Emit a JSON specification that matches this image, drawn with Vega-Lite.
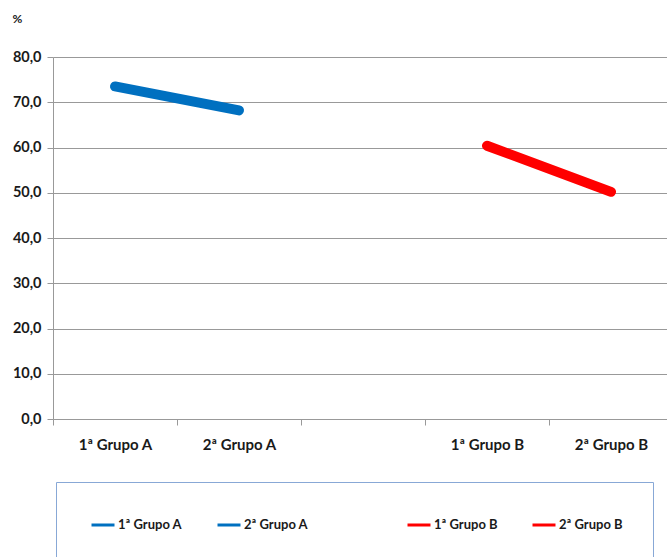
{
  "$schema": "https://vega.github.io/schema/vega-lite/v6.json",
  "width": 614,
  "height": 362,
  "autosize": {"type": "none"},
  "padding": {"left": 53, "top": 57, "right": 0, "bottom": 138},
  "background": "white",
  "config": {"view": {"stroke": null}, "font": "Lato"},
  "data": {"values": [
    {"cat": "1ª Grupo A", "valor": 73.5, "grupo": "A"},
    {"cat": "2ª Grupo A", "valor": 68.2, "grupo": "A"},
    {"cat": "1ª Grupo B", "valor": 60.4, "grupo": "B"},
    {"cat": "2ª Grupo B", "valor": 50.2, "grupo": "B"}
  ]},
  "encoding": {
    "x": {
      "field": "cat", "type": "nominal", "sort": null,
      "scale": {"type": "band", "domain": ["1ª Grupo A", "2ª Grupo A", " ", "1ª Grupo B", "2ª Grupo B"], "range": [0, 620], "paddingInner": 0, "paddingOuter": 0},
      "axis": {"title": null, "labelAngle": 0, "tickBand": "extent", "grid": false, "domainColor": "#999999", "tickColor": "#999999", "tickSize": 6, "labelFont": "Lato", "labelFontSize": 15, "labelFontWeight": "bold", "labelColor": "#1a1a1a", "labelPadding": 12, "labelBaseline": "top"}
    },
    "y": {
      "field": "valor", "type": "quantitative",
      "scale": {"domain": [0, 80], "nice": false},
      "axis": {"title": "%", "titleAngle": 0, "titleX": -36, "titleY": -39, "titleAlign": "center", "titleBaseline": "middle", "titleFontSize": 12, "titleFontWeight": "bold", "titleColor": "#1a1a1a", "values": [0, 10, 20, 30, 40, 50, 60, 70, 80], "labelExpr": "replace(format(datum.value, '.1f'), '.', ',')", "grid": true, "gridColor": "#999999", "domainColor": "#999999", "tickColor": "#999999", "tickSize": 6, "labelPadding": 6, "labelFont": "Lato", "labelFontSize": 14.5, "labelFontWeight": "bold", "labelColor": "#1a1a1a"}
    }
  },
  "layer": [
    {
      "mark": {"type": "line", "strokeWidth": 10, "strokeCap": "round"},
      "encoding": {"color": {"field": "grupo", "type": "nominal", "scale": {"domain": ["A", "B"], "range": ["#0070C0", "#FF0000"]}, "legend": null}}
    },
    {
      "mark": {"type": "line", "opacity": 0},
      "encoding": {
        "color": {
          "field": "cat", "type": "nominal",
          "scale": {"domain": ["1ª Grupo A", "2ª Grupo A", " ", "1ª Grupo B", "2ª Grupo B"], "range": ["#0070C0", "#0070C0", "rgba(0,0,0,0)", "#FF0000", "#FF0000"]},
          "legend": {"title": null, "orient": "none", "legendX": 3, "legendY": 425, "direction": "horizontal", "columns": 5, "columnPadding": 28, "padding": 30, "strokeColor": "#88A8D6", "symbolType": "stroke", "symbolSize": 529, "symbolStrokeWidth": 3, "symbolOpacity": 1, "symbolOffset": 4, "labelFont": "Lato", "labelFontSize": 13, "labelFontWeight": "bold", "labelColor": "#1a1a1a", "labelOffset": 2, "labelLimit": 200}
        }
      }
    }
  ],
  "resolve": {"scale": {"color": "independent"}}
}
